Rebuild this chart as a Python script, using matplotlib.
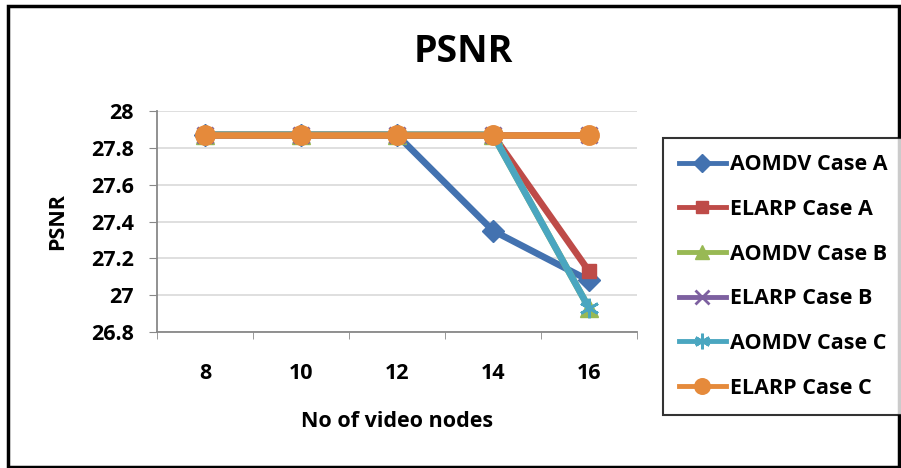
import matplotlib
matplotlib.use("Agg")
import matplotlib.pyplot as plt
from matplotlib.patches import Rectangle

nodes = ["8", "10", "12", "14", "16"]
aomdv_a = [27.87, 27.87, 27.87, 27.35, 27.08]
elarp_a = [27.87, 27.87, 27.87, 27.87, 27.13]
aomdv_b = [27.87, 27.87, 27.87, 27.87, 26.93]
elarp_b = [27.87, 27.87, 27.87, 27.87, 27.87]
aomdv_c = [27.87, 27.87, 27.87, 27.87, 26.93]
elarp_c = [27.87, 27.87, 27.87, 27.87, 27.87]

series = [
    ("AOMDV Case A", aomdv_a, "#4372B0", "D", 11),
    ("ELARP Case A", elarp_a, "#BE4B48", "s", 10),
    ("AOMDV Case B", aomdv_b, "#98B954", "^", 13),
    ("ELARP Case B", elarp_b, "#7D60A0", "x", 12),
    ("AOMDV Case C", aomdv_c, "#4AA6C0", (6, 2, 0), 14),
    ("ELARP Case C", elarp_c, "#E58A3B", "o", 14),
]

plt.rcParams["font.family"] = ["Open Sans", "DejaVu Sans"]
plt.rcParams["font.weight"] = "bold"

fig = plt.figure(figsize=(9.01, 4.68), dpi=100)
ax = fig.add_axes([0.1743, 0.2906, 0.5327, 0.4722])

x = list(range(len(nodes)))
for label, vals, color, marker, ms in series:
    mew = 2 if marker in ("x", (6, 2, 0)) else 1
    ax.plot(x, vals, color=color, lw=4.8, marker=marker, ms=ms,
            mec=color, mfc=color, mew=mew, label=label)

ax.set_xlim(-0.5, len(nodes) - 0.5)
ax.set_ylim(26.8, 28.0)
ax.set_yticks([26.8, 27.0, 27.2, 27.4, 27.6, 27.8, 28.0])
ax.set_yticklabels(["26.8", "27", "27.2", "27.4", "27.6", "27.8", "28"])
ax.set_xticks(x)
ax.set_xticklabels(nodes)
ax.set_xticks([i - 0.5 for i in range(len(nodes) + 1)], minor=True)
ax.tick_params(axis="x", which="major", length=0, pad=22, labelsize=15.5)
ax.tick_params(axis="x", which="minor", length=5, color="#888888")
ax.tick_params(axis="y", length=5.8, color="#888888", labelsize=15.5, pad=11)
for t in ax.get_xticklabels() + ax.get_yticklabels():
    t.set_fontweight("bold")

ax.grid(axis="y", color="#d9d9d9", lw=1.2)
ax.set_axisbelow(True)
for s in ["top", "right"]:
    ax.spines[s].set_visible(False)
ax.spines["left"].set_color("#888888")
ax.spines["bottom"].set_color("#888888")
ax.spines["left"].set_linewidth(1.3)
ax.spines["bottom"].set_linewidth(1.3)

ax.set_xlabel("No of video nodes", fontsize=15.5, fontweight="bold", labelpad=20)
ax.set_ylabel("PSNR", fontsize=15.5, fontweight="bold", labelpad=16)
fig.text(0.514, 0.888, "PSNR", fontsize=27, fontweight="bold", ha="center", va="center")

leg = fig.legend(loc="upper left", bbox_to_anchor=(0.736, 0.705), fontsize=15.5,
                 frameon=True, fancybox=False, edgecolor="black",
                 labelspacing=1.1, handlelength=2.15, handletextpad=0.2,
                 borderpad=0.75, borderaxespad=0, markerscale=0.8)
leg.get_frame().set_linewidth(1.5)
for t in leg.get_texts():
    t.set_fontweight("bold")
for ln in leg.get_lines():
    ln.set_linewidth(3.5)

fig.patches.append(Rectangle((8 / 901, 1 - 467 / 468), 891 / 901, 461 / 468,
                             transform=fig.transFigure, fill=False,
                             edgecolor="black", lw=2.5))

fig.savefig("out.png", dpi=100)
